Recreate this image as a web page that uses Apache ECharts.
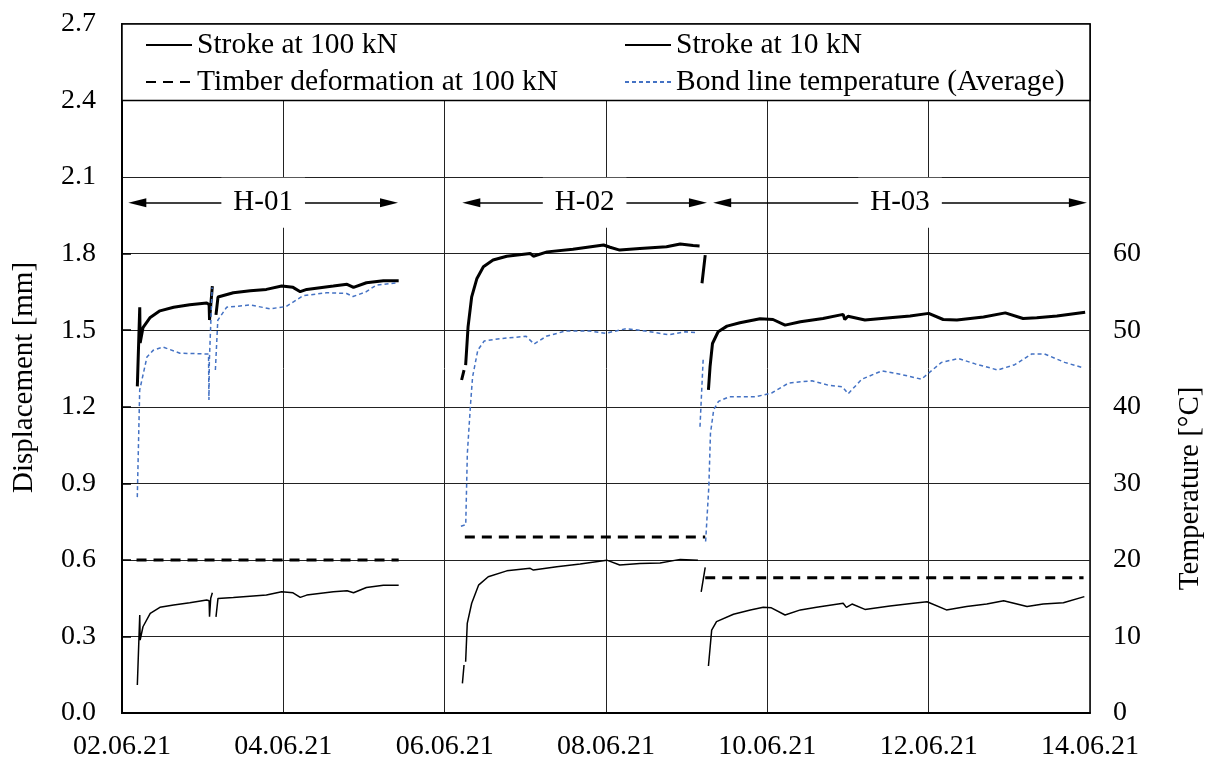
<!DOCTYPE html>
<html>
<head>
<meta charset="utf-8">
<script src="https://cdn.jsdelivr.net/npm/echarts@6/dist/echarts.min.js"></script>
<style>
  html, body { margin: 0; padding: 0; background: #fff; }
  #chart { width: 1213px; height: 761px; }
</style>
</head>
<body>
<div id="chart"></div>
<script>
// x values are days after 02.06.21 00:00, null = gap in the record
const xTickLabels = ['02.06.21', '04.06.21', '06.06.21', '08.06.21', '10.06.21', '12.06.21', '14.06.21'];

const stroke100 = [
  [0.19, 1.28], [0.22, 1.59], [0.225, 1.45], [0.26, 1.51], [0.35, 1.55], [0.47, 1.576], [0.64, 1.59], [0.84, 1.60],
  [1.05, 1.607], [1.08, 1.60], [1.085, 1.54], [1.12, 1.673], null,
  [1.165, 1.56], [1.19, 1.63], [1.38, 1.647], [1.59, 1.655], [1.79, 1.66], [1.98, 1.673], [2.12, 1.668],
  [2.21, 1.651], [2.29, 1.66], [2.62, 1.673], [2.79, 1.68], [2.87, 1.668], [3.03, 1.686], [3.24, 1.694], [3.43, 1.694], null,
  [4.21, 1.305], [4.24, 1.344], null,
  [4.26, 1.363], [4.29, 1.513], [4.335, 1.631], [4.40, 1.703], [4.48, 1.749], [4.60, 1.775], [4.77, 1.79], [5.06, 1.801],
  [5.10, 1.79], [5.27, 1.807], [5.59, 1.817], [5.97, 1.834], [6.05, 1.825], [6.17, 1.814], [6.42, 1.82], [6.75, 1.827],
  [6.92, 1.838], [7.08, 1.832], [7.16, 1.83], null,
  [7.19, 1.684], [7.23, 1.794], null,
  [7.27, 1.266], [7.29, 1.357], [7.32, 1.448], [7.39, 1.494], [7.50, 1.516], [7.66, 1.529], [7.91, 1.545], [8.07, 1.542],
  [8.22, 1.52], [8.41, 1.533], [8.69, 1.546], [8.94, 1.562], [8.96, 1.542], [9.0, 1.555], [9.21, 1.54], [9.52, 1.549],
  [9.77, 1.556], [10.0, 1.566], [10.18, 1.542], [10.35, 1.54], [10.68, 1.552], [10.95, 1.568], [11.17, 1.546],
  [11.34, 1.549], [11.59, 1.556], [11.94, 1.57]
];

const stroke10 = [
  [0.19, 0.11], [0.22, 0.384], [0.225, 0.286], [0.26, 0.338], [0.35, 0.39], [0.47, 0.414], [0.64, 0.423], [0.84, 0.432],
  [1.05, 0.443], [1.08, 0.44], [1.085, 0.377], [1.10, 0.45], [1.12, 0.471], null,
  [1.165, 0.377], [1.19, 0.449], [1.38, 0.453], [1.79, 0.462], [1.98, 0.475], [2.12, 0.471], [2.21, 0.453], [2.29, 0.462],
  [2.62, 0.475], [2.79, 0.479], [2.87, 0.471], [3.03, 0.492], [3.24, 0.501], [3.43, 0.501], null,
  [4.22, 0.116], [4.24, 0.188], null,
  [4.26, 0.201], [4.28, 0.351], [4.335, 0.43], [4.42, 0.501], [4.54, 0.534], [4.77, 0.557], [5.06, 0.567], [5.10, 0.56],
  [5.39, 0.573], [5.68, 0.584], [6.01, 0.599], [6.17, 0.58], [6.42, 0.586], [6.67, 0.588], [6.92, 0.602], [7.14, 0.599], null,
  [7.18, 0.475], [7.23, 0.571], null,
  [7.27, 0.184], [7.31, 0.325], [7.37, 0.358], [7.58, 0.387], [7.79, 0.404], [7.95, 0.414], [8.05, 0.412], [8.22, 0.384],
  [8.41, 0.404], [8.61, 0.414], [8.94, 0.43], [8.98, 0.414], [9.05, 0.427], [9.21, 0.406], [9.52, 0.419], [9.81, 0.43],
  [9.98, 0.436], [10.22, 0.404], [10.47, 0.417], [10.72, 0.427], [10.93, 0.44], [11.22, 0.417], [11.42, 0.427],
  [11.67, 0.432], [11.93, 0.456]
];

const timber100 = [
  [0.18, 0.60], [3.43, 0.60], null,
  [4.25, 0.69], [7.23, 0.69], null,
  [7.23, 0.53], [11.92, 0.53]
];

const bondTemp = [
  [0.19, 28.2], [0.22, 42.2], [0.31, 46.5], [0.39, 47.4], [0.51, 47.8], [0.72, 47.0], [1.05, 46.9], [1.075, 46.9],
  [1.08, 40.9], [1.085, 46.0], [1.12, 55.6], null,
  [1.16, 44.8], [1.19, 51.3], [1.30, 53.0], [1.59, 53.3], [1.84, 52.8], [2.04, 53.1], [2.25, 54.5], [2.54, 54.9],
  [2.79, 54.8], [2.87, 54.4], [3.03, 55.0], [3.16, 55.9], [3.43, 56.2], null,
  [4.21, 24.4], [4.27, 24.6], [4.29, 33.9], [4.33, 40.4], [4.355, 43.9], [4.42, 47.4], [4.50, 48.6], [4.69, 48.9],
  [5.02, 49.2], [5.12, 48.2], [5.27, 49.2], [5.51, 49.9], [5.80, 49.9], [6.01, 49.6], [6.26, 50.2], [6.50, 49.9],
  [6.79, 49.4], [7.0, 49.8], [7.14, 49.7], null,
  [7.18, 37.4], [7.22, 46.3], null,
  [7.25, 22.4], [7.29, 29.6], [7.31, 36.5], [7.35, 39.6], [7.41, 40.7], [7.54, 41.3], [7.87, 41.3], [8.07, 41.8],
  [8.28, 43.1], [8.57, 43.4], [8.78, 42.8], [8.95, 42.6], [9.02, 41.7], [9.19, 43.6], [9.44, 44.7], [9.69, 44.2],
  [9.93, 43.6], [10.18, 45.8], [10.39, 46.3], [10.60, 45.6], [10.88, 44.8], [11.09, 45.5], [11.30, 46.9],
  [11.46, 46.9], [11.71, 45.8], [11.94, 45.1]
];

// test periods (arrow shafts) and label row
const testNames = ['H-01', 'H-02', 'H-03'];
const testFrom = [0.19, 4.33, 7.44];
const testTo = [3.31, 7.14, 11.85];
const testLevel = 2.0;

const FONT = "'Liberation Serif', 'Times New Roman', serif";

function withGaps(arr) {
  return arr.map(p => p === null ? ['-', '-'] : p);
}

const myChart = echarts.init(document.getElementById('chart'));

const legendText = { fontSize: 29.5, lineHeight: 29, color: '#000', fontFamily: FONT };
const legendBase = {
  orient: 'vertical', top: 30, padding: 0,
  itemWidth: 46, itemHeight: 14, itemGap: 7,
  selectedMode: false, textStyle: legendText,
  itemStyle: { opacity: 0 }
};

const option = {
  animation: false,
  textStyle: { fontFamily: FONT },
  grid: [
    { left: 122, right: 123, top: 24, bottom: 48, show: true, borderColor: '#000', borderWidth: 1.5 },
    { left: 122, right: 123, top: 24 + 689 / 3, bottom: 48, show: false }
  ],
  legend: [
    Object.assign({}, legendBase, { data: ['Stroke at 100 kN', 'Timber deformation at 100 kN'], left: 145 }),
    Object.assign({}, legendBase, { data: ['Stroke at 10 kN', 'Bond line temperature (Average)'], left: 624 })
  ],
  xAxis: [
    {
      type: 'value', gridIndex: 0, min: 0, max: 12, interval: 2,
      axisLine: { show: true, lineStyle: { color: '#000', width: 2 } },
      axisTick: { show: false },
      axisLabel: {
        margin: 20, fontSize: 28, color: '#000', fontFamily: FONT,
        formatter: v => xTickLabels[Math.round(v / 2)]
      },
      splitLine: { show: true, lineStyle: { color: '#222', width: 1 } }
    },
    { type: 'value', gridIndex: 1, min: 0, max: 12, show: false }
  ],
  yAxis: [
    {
      type: 'value', gridIndex: 0, min: 0, max: 2.7, interval: 0.3,
      name: 'Displacement [mm]', nameLocation: 'middle', nameGap: 83,
      nameTextStyle: { fontSize: 29, color: '#000', fontFamily: FONT, padding: [0, 18, 0, 0] },
      axisLine: { show: true, lineStyle: { color: '#000', width: 2 } },
      axisTick: { show: false },
      axisLabel: { margin: 26, fontSize: 28, color: '#000', fontFamily: FONT, formatter: v => v.toFixed(1) },
      splitLine: { show: true, lineStyle: { color: '#222', width: 1 } }
    },
    {
      type: 'value', gridIndex: 1, position: 'right', min: 0, max: 60, interval: 10,
      name: 'Temperature [°C]', nameLocation: 'middle', nameGap: 88,
      nameTextStyle: { fontSize: 29, color: '#000', fontFamily: FONT, padding: [0, 10, 0, 0] },
      axisLine: { show: true, lineStyle: { color: '#000', width: 1.5 } },
      axisTick: { show: true, inside: false, length: 9, lineStyle: { color: '#000', width: 1.5 } },
      axisLabel: { margin: 25, fontSize: 28, color: '#000', fontFamily: FONT },
      splitLine: { show: false }
    }
  ],
  series: [
    {
      name: 'Timber deformation at 100 kN', type: 'line', xAxisIndex: 0, yAxisIndex: 0,
      showSymbol: false, symbol: 'none', z: 2,
      data: withGaps(timber100),
      lineStyle: { color: '#000', width: 3, type: [10, 7] },
      itemStyle: { color: '#000' },
      markArea: {
        silent: true,
        itemStyle: { color: '#fff', borderColor: '#000', borderWidth: 1.5 },
        data: [[{ xAxis: 0, yAxis: 2.4 }, { xAxis: 12, yAxis: 2.7 }]]
      }
    },
    {
      name: 'Stroke at 10 kN', type: 'line', xAxisIndex: 0, yAxisIndex: 0,
      showSymbol: false, symbol: 'none', z: 3,
      data: withGaps(stroke10),
      lineStyle: { color: '#000', width: 1.5 },
      itemStyle: { color: '#000' },
      markLine: {
        silent: true,
        symbol: ['triangle', 'triangle'],
        symbolSize: [9, 18],
        label: { show: false },
        lineStyle: { color: '#000', width: 1.5, type: 'solid' },
        data: testNames.map((n, i) => [
          { coord: [testFrom[i], testLevel] },
          { coord: [testTo[i], testLevel] }
        ])
      }
    },
    {
      name: 'Stroke at 100 kN', type: 'line', xAxisIndex: 0, yAxisIndex: 0,
      showSymbol: false, symbol: 'none', z: 3,
      data: withGaps(stroke100),
      lineStyle: { color: '#000', width: 3 },
      itemStyle: { color: '#000' }
    },
    {
      name: 'Bond line temperature (Average)', type: 'line', xAxisIndex: 1, yAxisIndex: 1,
      showSymbol: false, symbol: 'none', z: 3,
      data: withGaps(bondTemp),
      lineStyle: { color: '#4472C4', width: 1.5, type: [4, 3] },
      itemStyle: { color: '#4472C4' }
    },
    {
      name: 'tests', type: 'scatter', xAxisIndex: 0, yAxisIndex: 0, z: 5,
      symbol: 'rect', symbolSize: [2, 2], silent: true,
      itemStyle: { color: '#fff', opacity: 1 },
      label: {
        show: true, position: 'inside', formatter: p => p.value[2],
        fontSize: 29, lineHeight: 28, color: '#000', opacity: 1, fontFamily: FONT,
        textBorderWidth: 0, textBorderColor: 'transparent',
        backgroundColor: '#fff', padding: [11, 12]
      },
      data: testNames.map((n, i) => [(testFrom[i] + testTo[i]) / 2, testLevel, n])
    }
  ]
};

myChart.setOption(option);
</script>
</body>
</html>
